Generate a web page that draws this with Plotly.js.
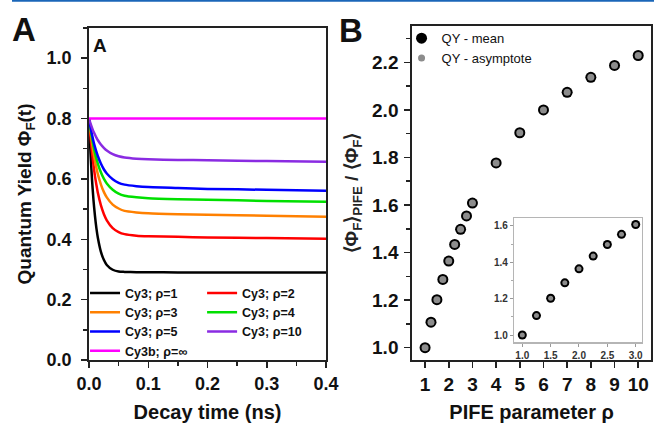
<!DOCTYPE html>
<html>
<head>
<meta charset="utf-8">
<script src="https://cdn.plot.ly/plotly-3.0.1.min.js"></script>
<style>html,body{margin:0;padding:0;background:#fff;}#chart{width:654px;height:423px;}</style>
</head>
<body>
<div id="chart"></div>
<script>
// ---- Panel A: quantum yield decay curves ----
var decayTime = [0, 0.0025, 0.005, 0.0075, 0.01, 0.0125, 0.015, 0.02, 0.025, 0.03, 0.04, 0.05, 0.06, 0.08, 0.1, 0.15, 0.2, 0.3, 0.4];
var qyRho1  = [0.800, 0.687, 0.600, 0.531, 0.478, 0.436, 0.404, 0.359, 0.332, 0.315, 0.299, 0.293, 0.292, 0.291, 0.291, 0.290, 0.290, 0.290, 0.290];
var qyRho2  = [0.800, 0.740, 0.690, 0.647, 0.610, 0.580, 0.553, 0.513, 0.484, 0.463, 0.437, 0.424, 0.417, 0.412, 0.410, 0.408, 0.406, 0.404, 0.402];
var qyRho3  = [0.800, 0.757, 0.720, 0.688, 0.660, 0.636, 0.615, 0.582, 0.557, 0.539, 0.515, 0.502, 0.494, 0.489, 0.486, 0.483, 0.481, 0.478, 0.475];
var qyRho4  = [0.800, 0.766, 0.736, 0.710, 0.687, 0.667, 0.650, 0.622, 0.601, 0.585, 0.564, 0.551, 0.544, 0.539, 0.536, 0.533, 0.531, 0.527, 0.524];
var qyRho5  = [0.800, 0.772, 0.747, 0.725, 0.706, 0.690, 0.675, 0.651, 0.632, 0.618, 0.599, 0.587, 0.581, 0.576, 0.573, 0.570, 0.567, 0.564, 0.561];
var qyRho10 = [0.800, 0.784, 0.770, 0.757, 0.747, 0.737, 0.728, 0.714, 0.703, 0.694, 0.682, 0.675, 0.671, 0.667, 0.665, 0.663, 0.662, 0.659, 0.657];
var qyCy3b  = [0.800, 0.800, 0.800, 0.800, 0.800, 0.800, 0.800, 0.800, 0.800, 0.800, 0.800, 0.800, 0.800, 0.800, 0.800, 0.800, 0.800, 0.800, 0.800];
var curveNames = ['Cy3; ρ=1', 'Cy3; ρ=2', 'Cy3; ρ=3', 'Cy3; ρ=4', 'Cy3; ρ=5', 'Cy3; ρ=10', 'Cy3b; ρ=∞'];

// ---- Panel B: PIFE ratio vs rho ----
var pifeRho  = [1, 1.25, 1.5, 1.75, 2, 2.25, 2.5, 2.75, 3, 4, 5, 6, 7, 8, 9, 10];
var qyMean   = [1.000, 1.107, 1.202, 1.287, 1.364, 1.434, 1.498, 1.554, 1.608, 1.777, 1.904, 2.000, 2.074, 2.137, 2.187, 2.229];
var qyAsym   = [1.000, 1.107, 1.202, 1.287, 1.364, 1.434, 1.498, 1.554, 1.608, 1.777, 1.904, 2.000, 2.074, 2.137, 2.187, 2.229];
var seriesBNames = ['QY - mean', 'QY - asymptote'];

var FONT = 'Liberation Sans, Arial, Helvetica, sans-serif';
var AX = '#222';

var curveData = [qyRho1, qyRho2, qyRho3, qyRho4, qyRho5, qyRho10, qyCy3b];
var curveColors = ['#000000', '#ff0000', '#ff8000', '#00e000', '#0000ff', '#8a2be2', '#ff00ff'];
var curveLegend = ['legend', 'legend2', 'legend', 'legend2', 'legend', 'legend2', 'legend'];

var traces = [];
for (var i = 0; i < curveData.length; i++) {
  traces.push({
    type: 'scatter', mode: 'lines', x: decayTime, y: curveData[i], name: curveNames[i],
    line: {color: curveColors[i], width: 2.5, shape: 'spline', smoothing: 0.6},
    xaxis: 'x', yaxis: 'y', legend: curveLegend[i]
  });
}

// main panel B
traces.push({type: 'scatter', mode: 'markers', x: pifeRho, y: qyMean, name: seriesBNames[0],
  marker: {color: '#000', size: 11}, xaxis: 'x2', yaxis: 'y2', legend: 'legend3'});
traces.push({type: 'scatter', mode: 'markers', x: pifeRho, y: qyAsym, name: seriesBNames[1],
  marker: {color: '#8c8c8c', size: 7}, xaxis: 'x2', yaxis: 'y2', legend: 'legend3'});

// inset (rho <= 3)
var insetN = pifeRho.filter(function (r) { return r <= 3; }).length;
traces.push({type: 'scatter', mode: 'markers', x: pifeRho.slice(0, insetN), y: qyMean.slice(0, insetN),
  marker: {color: '#000', size: 9}, xaxis: 'x3', yaxis: 'y3', showlegend: false});
traces.push({type: 'scatter', mode: 'markers', x: pifeRho.slice(0, insetN), y: qyAsym.slice(0, insetN),
  marker: {color: '#8c8c8c', size: 5}, xaxis: 'x3', yaxis: 'y3', showlegend: false});

function tickFont(sz) { return {family: FONT, size: sz, color: '#111', weight: 'bold'}; }
function baseAxis() {
  return {showline: true, mirror: true, linecolor: AX, linewidth: 2, ticks: 'outside', ticklen: 6,
    tickwidth: 1.5, tickcolor: AX, showgrid: false, zeroline: false, fixedrange: true};
}

var xa = Object.assign(baseAxis(), {
  domain: [0.1361, 0.4985], range: [0, 0.4], tick0: 0, dtick: 0.1, tickformat: '.1f', anchor: 'y',
  tickfont: tickFont(18), minor: {dtick: 0.05, ticks: 'outside', ticklen: 4, tickcolor: AX, tickwidth: 1.5},
  title: {text: 'Decay time (ns)', font: {family: FONT, size: 20, color: '#111', weight: 'bold'}, standoff: 14}
});
var ya = Object.assign(baseAxis(), {
  domain: [0.1489, 0.9338], range: [0, 1.1], tick0: 0, dtick: 0.2, tickformat: '.1f', anchor: 'x',
  tickfont: tickFont(18), ticklabelstandoff: 6,
  minor: {dtick: 0.1, ticks: 'outside', ticklen: 4, tickcolor: AX, tickwidth: 1.5},
  title: {text: 'Quantum Yield Φ<sub>F</sub>(t)', font: {family: FONT, size: 19, color: '#111', weight: 'bold'}, standoff: 10}
});
var xa2 = Object.assign(baseAxis(), {
  domain: [0.6304, 0.9954], range: [0.46, 10.54], tick0: 0, dtick: 1, anchor: 'y2',
  tickfont: tickFont(19),
  title: {text: 'PIFE parameter ρ', font: {family: FONT, size: 20, color: '#111', weight: 'bold'}, standoff: 14}
});
var ya2 = Object.assign(baseAxis(), {
  domain: [0.1489, 0.9385], range: [0.948, 2.353], tick0: 0, dtick: 0.2, tickformat: '.1f', anchor: 'x2',
  tickfont: tickFont(19), ticklabelstandoff: 2,
  minor: {dtick: 0.1, ticks: 'outside', ticklen: 4, tickcolor: AX, tickwidth: 1.5},
  title: {text: '⟨Φ<sub>F</sub>⟩<sub>PIFE</sub> / ⟨Φ<sub>F</sub>⟩', font: {family: FONT, size: 19, color: '#222', weight: 'bold'}, standoff: 8}
});
var xa3 = {
  domain: [0.7864, 0.9812], range: [0.859, 3.106], tick0: 0, dtick: 0.5, tickformat: '.1f', anchor: 'y3',
  showline: true, mirror: true, linecolor: '#b5b5b5', linewidth: 1.5, ticks: 'outside', ticklen: 3,
  tickcolor: '#999', showgrid: false, zeroline: false, fixedrange: true,
  tickfont: {family: FONT, size: 10, color: '#333', weight: 'bold'}
};
var ya3 = {
  domain: [0.1908, 0.4839], range: [0.96, 1.642], tick0: 0, dtick: 0.2, tickformat: '.1f', anchor: 'x3',
  showline: true, mirror: true, linecolor: '#b5b5b5', linewidth: 1.5, ticks: 'outside', ticklen: 3,
  tickcolor: '#999', showgrid: false, zeroline: false, fixedrange: true,
  minor: {dtick: 0.1, ticks: 'outside', ticklen: 2, tickcolor: '#aaa'},
  tickfont: {family: FONT, size: 10, color: '#333', weight: 'bold'}
};

function legendStyle(x, y, size, weight) {
  return {x: x, y: y, xanchor: 'left', yanchor: 'top', orientation: 'v', bgcolor: 'rgba(0,0,0,0)',
    borderwidth: 0, itemwidth: 30, traceorder: 'normal',
    font: {family: FONT, size: size, color: '#111', weight: weight}};
}

var layout = {
  width: 654, height: 423, margin: {l: 0, r: 0, t: 0, b: 0},
  paper_bgcolor: '#fff', plot_bgcolor: 'rgba(0,0,0,0)', showlegend: true,
  font: {family: FONT, color: '#111'},
  xaxis: xa, yaxis: ya, xaxis2: xa2, yaxis2: ya2, xaxis3: xa3, yaxis3: ya3,
  legend: legendStyle(0.130, 0.342, 12.5, 'bold'),
  legend2: legendStyle(0.309, 0.342, 12.5, 'bold'),
  legend3: legendStyle(0.614, 0.945, 13, 'normal'),
  shapes: [
    {type: 'line', xref: 'paper', yref: 'paper', x0: 12 / 654, x1: 1, y0: 0.998, y1: 0.998,
      line: {color: '#1a66b8', width: 2}},
    {type: 'rect', xref: 'x3 domain', yref: 'y3 domain', x0: 0, x1: 1, y0: 0, y1: 1,
      fillcolor: '#fff', line: {width: 0}, layer: 'below'}
  ],
  annotations: [
    {text: 'A', xref: 'paper', yref: 'paper', x: 24 / 654, y: 1 - 30 / 423, xanchor: 'center', yanchor: 'middle', showarrow: false,
      font: {family: FONT, size: 33, color: '#111', weight: 'bold'}},
    {text: 'A', xref: 'paper', yref: 'paper', x: 100 / 654, y: 1 - 45 / 423, xanchor: 'center', yanchor: 'middle', showarrow: false,
      font: {family: FONT, size: 19, color: '#111', weight: 'bold'}},
    {text: 'B', xref: 'paper', yref: 'paper', x: 351 / 654, y: 1 - 31 / 423, xanchor: 'center', yanchor: 'middle', showarrow: false,
      font: {family: FONT, size: 33, color: '#111', weight: 'bold'}}
  ]
};

Plotly.newPlot('chart', traces, layout, {staticPlot: true, displayModeBar: false});
</script>
</body>
</html>
